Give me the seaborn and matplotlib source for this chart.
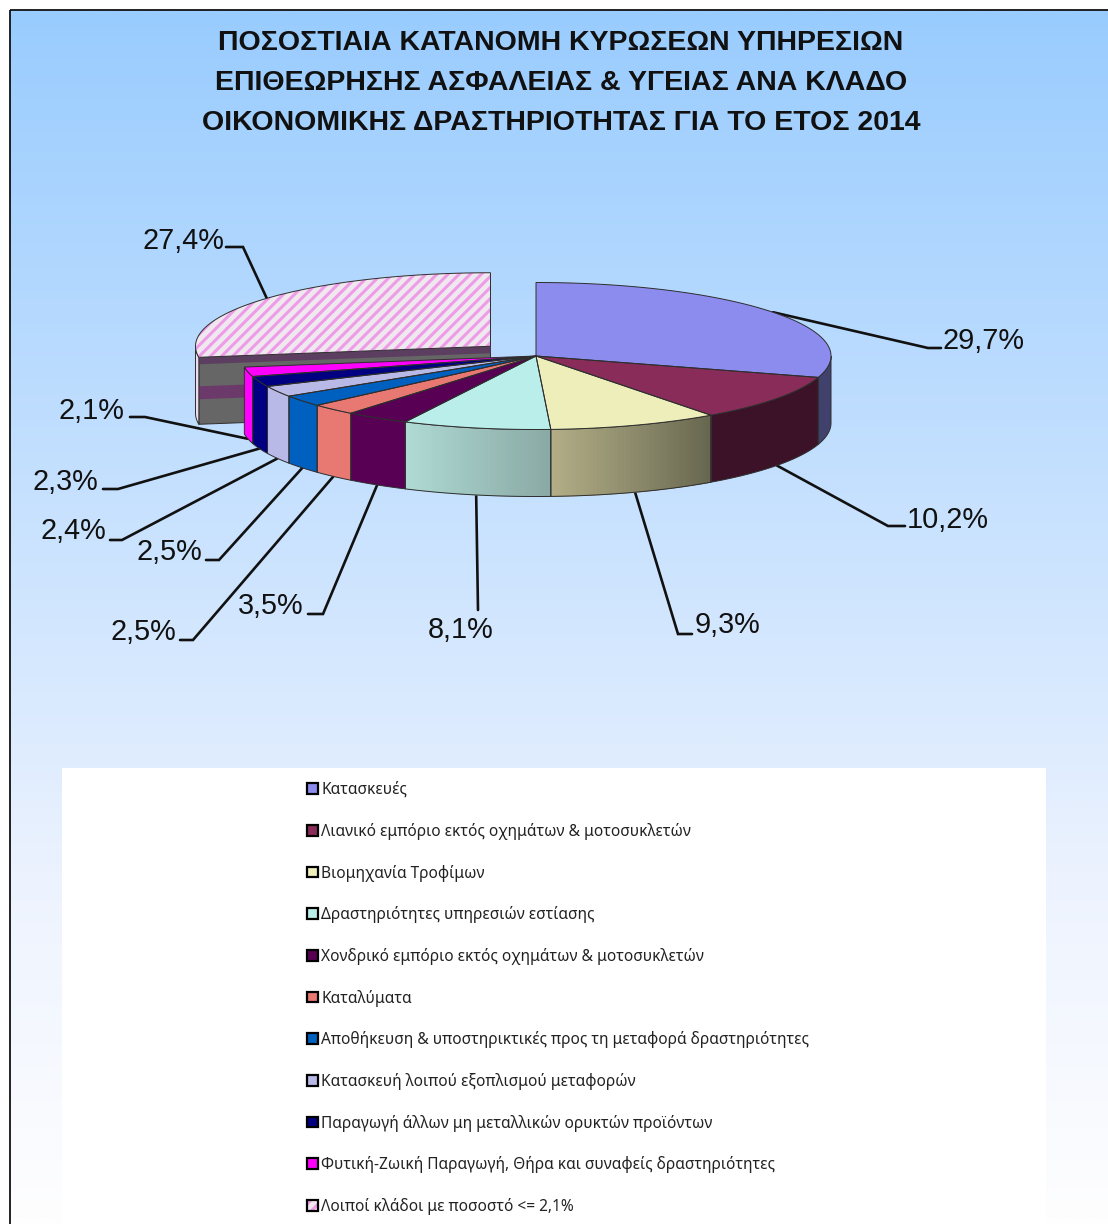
import numpy as np
import matplotlib
matplotlib.use('Agg')
import matplotlib.pyplot as plt
import seaborn as sns
from matplotlib.colors import LinearSegmentedColormap, to_rgb
from matplotlib.legend_handler import HandlerTuple
from matplotlib.patches import Polygon, Rectangle, Patch

# Data
titulo = ['ΠΟΣΟΣΤΙΑΙΑ ΚΑΤΑΝΟΜΗ ΚΥΡΩΣΕΩΝ ΥΠΗΡΕΣΙΩΝ',
          'ΕΠΙΘΕΩΡΗΣΗΣ ΑΣΦΑΛΕΙΑΣ & ΥΓΕΙΑΣ ΑΝΑ ΚΛΑΔΟ',
          'ΟΙΚΟΝΟΜΙΚΗΣ ΔΡΑΣΤΗΡΙΟΤΗΤΑΣ ΓΙΑ ΤΟ ΕΤΟΣ 2014']
klados = ['Κατασκευές',
          'Λιανικό εμπόριο εκτός οχημάτων & μοτοσυκλετών',
          'Βιομηχανία Τροφίμων',
          'Δραστηριότητες υπηρεσιών εστίασης',
          'Χονδρικό εμπόριο εκτός οχημάτων & μοτοσυκλετών',
          'Καταλύματα',
          'Αποθήκευση & υποστηρικτικές προς τη μεταφορά δραστηριότητες',
          'Κατασκευή λοιπού εξοπλισμού μεταφορών',
          'Παραγωγή άλλων μη μεταλλικών ορυκτών προϊόντων',
          'Φυτική-Ζωική Παραγωγή, Θήρα και συναφείς δραστηριότητες',
          'Λοιποί κλάδοι με ποσοστό <= 2,1%']
pososta = [29.7, 10.2, 9.3, 8.1, 3.5, 2.5, 2.5, 2.4, 2.3, 2.1, 27.4]

# Styles
top_colors = ['#8c8cee', '#8a2c5a', '#eeeebb', '#baeeea', '#570054', '#e87872',
              '#0060c0', '#b9b9e8', '#000080', '#ff00ff', '#efe9ef']
wall_left = ['#41416e', '#3c1228', '#b3ae87', '#b0dbd5', '#570054', '#e87872',
             '#0060c0', '#b9b9e8', '#000080', '#ff00ff', '#f0dcf0']
wall_right = ['#41416e', '#3c1228', '#66664f', '#8aa9a5', '#570054', '#e87872',
              '#0060c0', '#b9b9e8', '#000080', '#ff00ff', '#f0dcf0']
explode = [0, 0, 0, 0, 0, 0, 0, 0, 0, 0, 60]
stripe = '#ee9be8'

# Layout, in pixels of the picture
cx, cy, rx, ry, depth = 536, 356, 295, 73.5, 67
label_pos = [(943, 341), (907, 520), (695, 625), (428, 630), (238, 606), (110, 632),
             (136, 552), (41, 531), (32, 482), (58, 411), (142, 241)]
elbow_a = [(928, 348), (888, 526), (678, 634), (478, 610), (323, 614), (193, 640),
           (219, 560), (122, 540), (118, 489), (145, 417), (243, 247)]
elbow_b = [(941, 348), (905, 526), (692, 634), (478, 610), (308, 614), (180, 640),
           (206, 560), (110, 540), (103, 489), (130, 417), (226, 247)]

sns.set_theme(style='white')
plt.rcParams['font.family'] = ['Noto Sans', 'DejaVu Sans']
plt.rcParams['hatch.linewidth'] = 2.2
pal = sns.color_palette(top_colors)

fig = plt.figure(figsize=(11.08, 12.24), dpi=100, facecolor='white')
ax = fig.add_axes([0, 0, 1, 1])
ax.axis('off')

# background gradient
stops = [(0.0, '#99ccff'), (0.59, '#dcebfe'), (0.72, '#edf3fe'), (1.0, '#fefeff')]
cmap = LinearSegmentedColormap.from_list('fondo', stops)
ax.imshow(np.linspace(0, 1, 600).reshape(-1, 1), cmap=cmap, aspect='auto',
          extent=(10, 1108, 1224, 10), zorder=0)
ax.set_xlim(0, 1108)
ax.set_ylim(1224, 0)
ax.plot([10, 10], [1224, 10], color='#111111', lw=1.3, zorder=1, solid_capstyle='butt')
ax.plot([10, 1108], [10, 10], color='#111111', lw=1.3, zorder=1, solid_capstyle='butt')
ax.add_patch(Rectangle((62, 768), 984, 456, facecolor='white', edgecolor='none', zorder=1))

for i, linea in enumerate(titulo):
    ax.text(561, 43 + 40 * i, linea, ha='center', va='center', fontsize=20.5,
            fontweight='bold', family='Liberation Sans', color='#111111', zorder=5)


def rim(t, dx=0, dy=0, down=0):
    t = np.radians(t)
    return cx + dx + rx * np.cos(t), cy + dy - ry * np.sin(t) + down


edge = '#2e2e2e'
ends = 90 - 3.6 * np.cumsum(pososta)
starts = np.r_[90, ends[:-1]]
offsets = []
for s, e, ex in zip(starts, ends, explode):
    mid = np.radians((s + e) / 2)
    offsets.append((ex * np.cos(mid), -ex * np.sin(mid) * ry / rx))

# leader lines and labels
for i, v in enumerate(pososta):
    mid = (starts[i] + ends[i]) / 2
    dx, dy = offsets[i]
    down = depth if np.sin(np.radians(mid)) < 0 else 0
    ax0, ay0 = rim(mid, dx, dy, down)
    ax.plot([ax0, elbow_a[i][0], elbow_b[i][0]], [ay0, elbow_a[i][1], elbow_b[i][1]],
            color='#111111', lw=1.9, zorder=2, solid_joinstyle='miter')
    ax.text(label_pos[i][0], label_pos[i][1], f'{v:.1f}%'.replace('.', ','),
            ha='left', va='center', fontsize=20.8, family='Liberation Sans',
            color='#111111', zorder=5)


def draw_wall(i, z):
    # only the part of the rim in the front half of the ellipse shows
    dx, dy = offsets[i]
    a, b = max(ends[i], -180), min(starts[i], 0)
    if a >= b:
        return
    ts = np.linspace(a, b, 80)
    xs, ys = rim(ts, dx, dy)
    outline = list(zip(xs, ys)) + list(zip(xs[::-1], ys[::-1] + depth))
    c0, c1 = np.array(to_rgb(wall_left[i])), np.array(to_rgb(wall_right[i]))
    ax.add_patch(Polygon(outline, facecolor=c0, edgecolor='none', zorder=z))
    if wall_left[i] != wall_right[i]:
        # stepped shading, left to right
        ts2 = np.linspace(a, b, 41)
        for k in range(40):
            sub = np.linspace(ts2[k], ts2[k + 1], 6)
            x, y = rim(sub, dx, dy)
            col = c0 + (c1 - c0) * (k + 0.5) / 40
            ax.add_patch(Polygon(list(zip(x, y)) + list(zip(x[::-1], y[::-1] + depth)),
                                 facecolor=col, edgecolor=col, lw=0.6, zorder=z + 0.05))
    ax.add_patch(Polygon(outline, fill=False, edgecolor=edge, lw=0.7, zorder=z + 0.1))


def draw_top(i, z):
    dx, dy = offsets[i]
    ts = np.linspace(starts[i], ends[i], 120)
    xs, ys = rim(ts, dx, dy)
    pts = [(cx + dx, cy + dy)] + list(zip(xs, ys))
    last = i == len(pososta) - 1
    ax.add_patch(Polygon(pts, facecolor=pal[i], edgecolor=stripe if last else pal[i],
                         hatch='///' if last else None, lw=0, zorder=z))
    ax.add_patch(Polygon(pts, fill=False, edgecolor=edge, lw=0.7, zorder=z + 0.1))


# exploded slice: inner face first, everything else goes in front of it
n = len(pososta) - 1
dx, dy = offsets[n]
ax0, ay0 = cx + dx, cy + dy
bx, by = rim(starts[n], dx, dy)
ax.add_patch(Polygon([(ax0, ay0), (bx, by), (bx, by + depth), (ax0, ay0 + depth)],
                     facecolor='#666666', edgecolor=edge, lw=0.7, zorder=3))
for d0, d1, col in [(0, 7, '#5c3f60'), (29, 42, '#6b3a6b')]:
    ax.add_patch(Polygon([(ax0, ay0 + d0), (bx, by + d0), (bx, by + d1), (ax0, ay0 + d1)],
                         facecolor=col, edgecolor='none', zorder=3.05))
draw_wall(n, 3.1)
draw_top(n, 3.2)

for i in range(n):
    draw_wall(i, 4)
for i in range(n):
    draw_top(i, 4.2)

# legend
handles = [Patch(facecolor=pal[i], edgecolor='black', lw=1.6) for i in range(n)]
handles.append((Patch(facecolor=pal[n], edgecolor=stripe, hatch='///', lw=0),
                Patch(fill=False, edgecolor='black', lw=1.6)))
leg = ax.legend(handles, klados, loc='upper left', bbox_to_anchor=(307, 782),
                bbox_transform=ax.transData, frameon=False, fontsize=11.15,
                labelspacing=1.593, handlelength=0.68, handleheight=0.68,
                handletextpad=0.25, borderpad=0, borderaxespad=0,
                handler_map={tuple: HandlerTuple(ndivide=1, pad=0)})
leg.set_zorder(6)
for t in leg.get_texts():
    t.set_color('#222222')

fig.savefig('out.png', dpi=100)
